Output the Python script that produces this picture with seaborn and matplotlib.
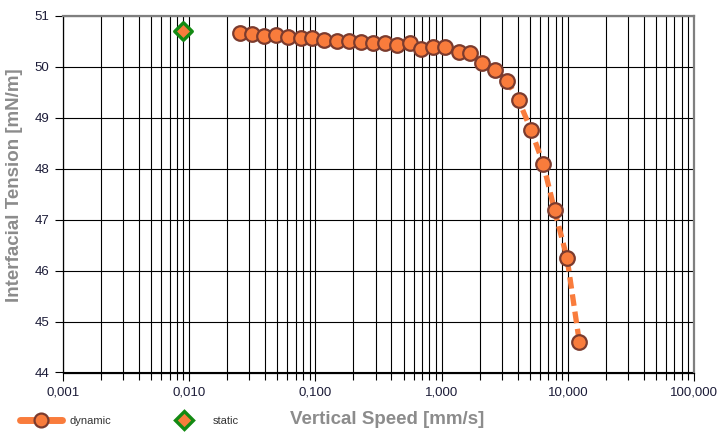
import matplotlib
matplotlib.use("Agg")
import matplotlib.pyplot as plt
import seaborn as sns
import numpy as np
from matplotlib.ticker import FuncFormatter, LogLocator, NullFormatter
from matplotlib.lines import Line2D

# dynamic measurement: vertical speed [mm/s] vs interfacial tension [mN/m]
speed = [0.0251, 0.0316, 0.0390, 0.0486, 0.0609, 0.0762, 0.0944, 0.118, 0.149,
         0.183, 0.229, 0.287, 0.357, 0.447, 0.559, 0.692, 0.856, 1.072, 1.366,
         1.690, 2.093, 2.633, 3.301, 4.079, 5.113, 6.397, 7.862, 9.856, 12.34]
tension = [50.66, 50.64, 50.61, 50.62, 50.59, 50.56, 50.56, 50.53, 50.51,
           50.51, 50.49, 50.47, 50.46, 50.43, 50.46, 50.35, 50.39, 50.39, 50.28,
           50.27, 50.08, 49.94, 49.73, 49.34, 48.76, 48.09, 47.18, 46.25, 44.60]

# static measurement
static_speed = [0.00897]
static_tension = [50.70]

x_ticks = [0.001, 0.01, 0.1, 1, 10, 100]
y_ticks = [44, 45, 46, 47, 48, 49, 50, 51]

orange = "#F97C3C"
brown = "#7B3B2E"
green = "#138A13"
label_gray = "#8C8C8C"

sns.set_theme(style="white")
plt.rcParams['font.family'] = ['Liberation Sans', 'DejaVu Sans']

fig = plt.figure(figsize=(7.2, 4.32), dpi=100)
ax = fig.add_axes([63 / 720, 1 - 372.5 / 432, 631 / 720, 356.7 / 432])

sns.lineplot(x=speed, y=tension, ax=ax, sort=False, color=orange,
             linewidth=3.8, dashes=False, linestyle=(0, (2.2, 1.1)),
             marker="o", markersize=10.5, markerfacecolor=orange,
             markeredgecolor=brown, markeredgewidth=1.6, zorder=4)
sns.scatterplot(x=static_speed, y=static_tension, ax=ax, marker="D", s=80,
                color=orange, edgecolor=green, linewidth=2.4, zorder=5)

ax.set_xscale("log")
ax.set_xlim(0.001, 100)
ax.set_ylim(44, 51)
ax.set_xticks(x_ticks)
ax.xaxis.set_minor_locator(LogLocator(base=10, subs=np.arange(2, 10)))
ax.xaxis.set_minor_formatter(NullFormatter())
ax.xaxis.set_major_formatter(FuncFormatter(lambda v, p: f"{v:.3f}".replace(".", ",")))
ax.set_yticks(y_ticks)

ax.grid(which="major", axis="both", color="black", linewidth=0.8)
ax.grid(which="minor", axis="x", color="black", linewidth=0.8)
ax.set_axisbelow(True)

ax.tick_params(axis="both", which="major", direction="out", length=6, width=0.8,
               color="black", labelsize=9.5, labelcolor="#1C1C38", pad=4,
               bottom=True, left=True)
ax.tick_params(axis="x", which="minor", direction="out", length=5, width=0.8,
               color="black", bottom=True)

for side in ["left", "bottom"]:
    ax.spines[side].set_color("black")
    ax.spines[side].set_linewidth(0.9)
for side in ["top", "right"]:
    ax.spines[side].set_color("#7F7F7F")
    ax.spines[side].set_linewidth(1.6)

ax.set_ylabel("Interfacial Tension [mN/m]", fontsize=13.5, fontweight="bold",
              color=label_gray)
ax.yaxis.set_label_coords(-0.063, 0.524)
ax.set_xlabel("")
fig.text(387 / 720, 1 - 420 / 432, "Vertical Speed [mm/s]", fontsize=13.5,
         fontweight="bold", color=label_gray, ha="center", va="center")

handles = [
    Line2D([], [], color=orange, linewidth=5, marker="o", markersize=10,
           markerfacecolor=orange, markeredgecolor=brown, markeredgewidth=1.6),
    Line2D([], [], color="none", marker="D", markersize=9,
           markerfacecolor=orange, markeredgecolor=green, markeredgewidth=2.4),
]
fig.legend(handles, ["dynamic", "static"], loc="center left",
           bbox_to_anchor=(10 / 720, 1 - 421 / 432), ncol=2, frameon=False,
           fontsize=8, handlelength=3.8, handletextpad=0.7, columnspacing=4.6,
           labelcolor="#333333")

fig.savefig("out.png", dpi=100)
